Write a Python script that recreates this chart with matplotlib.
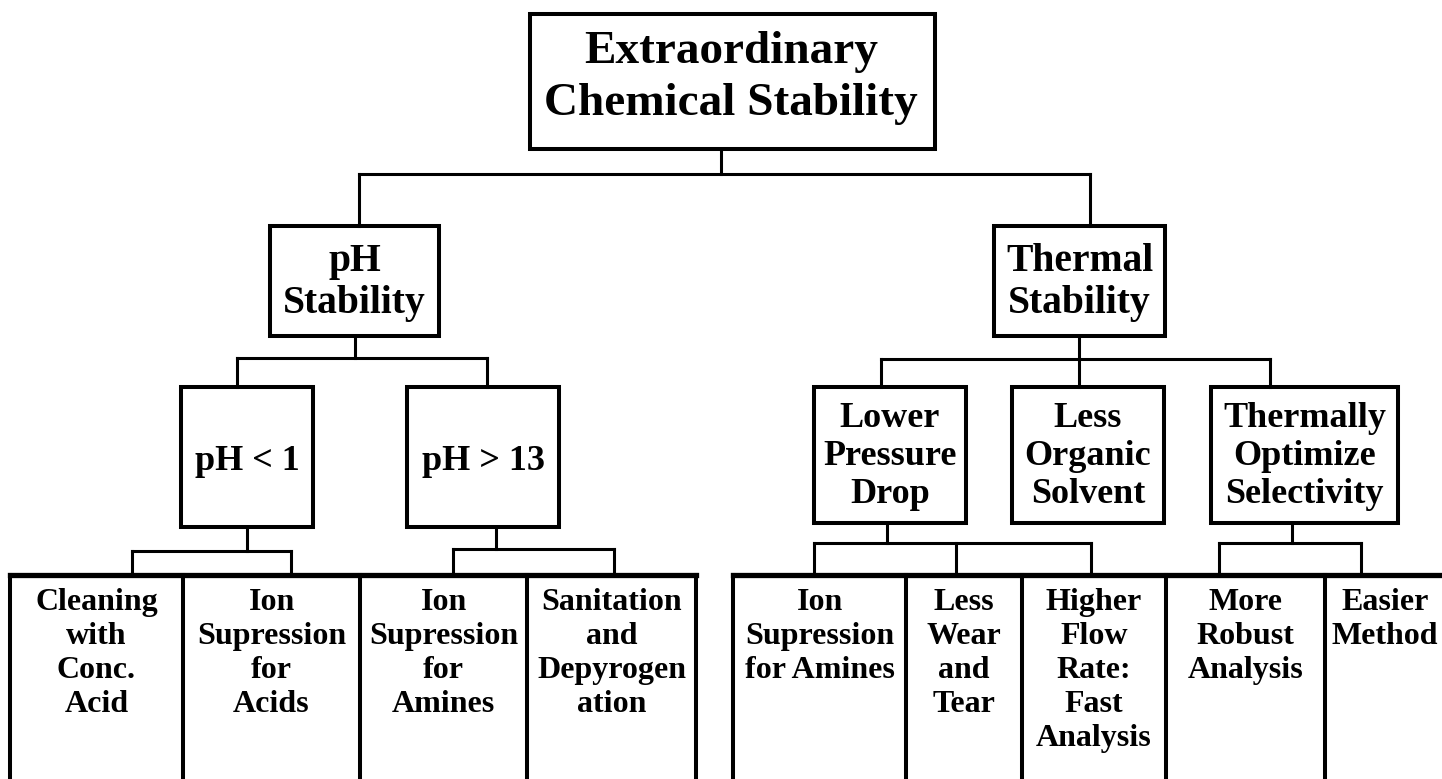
import matplotlib
matplotlib.use("Agg")
import matplotlib.pyplot as plt
from matplotlib.patches import Rectangle

# ---------------- content ----------------
root_label = ["Extraordinary", "Chemical Stability"]
level1_labels = [["pH", "Stability"], ["Thermal", "Stability"]]
level2_labels = [["pH < 1"], ["pH > 13"],
                 ["Lower", "Pressure", "Drop"],
                 ["Less", "Organic", "Solvent"],
                 ["Thermally", "Optimize", "Selectivity"]]
leaf_labels = [["Cleaning", "with", "Conc.", "Acid"],
               ["Ion", "Supression", "for", "Acids"],
               ["Ion", "Supression", "for", "Amines"],
               ["Sanitation", "and", "Depyrogen", "ation"],
               ["Ion", "Supression", "for Amines"],
               ["Less", "Wear", "and", "Tear"],
               ["Higher", "Flow", "Rate:", "Fast", "Analysis"],
               ["More", "Robust", "Analysis"],
               ["Easier", "Method"]]

# ---------------- layout (pixels) ----------------
W, H = 1442, 779
root_box = (530, 14, 935, 149)
level1_boxes = [(270, 226, 439, 336), (994, 226, 1165, 336)]
level2_boxes = [(181, 387, 313, 527), (407, 387, 559, 527),
                (814, 387, 966, 523), (1012, 387, 1164, 523),
                (1211, 387, 1398, 523)]
leaf_groups = [[10, 183, 360, 527, 696], [733, 906, 1022, 1166, 1325, W + 5]]
leaf_top = 575

FONT = "Liberation Serif"
BOX_LW = 2.9
CONN_LW = 2.2

fig = plt.figure(figsize=(W / 100, H / 100), dpi=100)
ax = fig.add_axes([0, 0, 1, 1])
ax.set_xlim(0, W)
ax.set_ylim(H, 0)
ax.axis("off")


def box(b):
    x0, y0, x1, y1 = b
    ax.add_patch(Rectangle((x0, y0), x1 - x0, y1 - y0, fill=False,
                           edgecolor="black", linewidth=BOX_LW,
                           joinstyle="miter"))


def lines(xs, ys, lw=CONN_LW):
    ax.plot(xs, ys, color="black", linewidth=lw, solid_capstyle="projecting")


def label(lines_, cx, y_first, step, size):
    for i, t in enumerate(lines_):
        ax.text(cx, y_first + i * step, t, ha="center", va="baseline",
                fontsize=size, fontweight="bold", family=FONT)


# root
box(root_box)
label(root_label, 731, 63, 52, 34)
lines([721, 721], [149, 174])
lines([359, 1090], [174, 174])
lines([359, 359], [174, 226])
lines([1090, 1090], [174, 226])

# level 1
for b, lab in zip(level1_boxes, level1_labels):
    box(b)
    label(lab, (b[0] + b[2]) / 2, 271, 42, 28.5)

# pH branch
lines([355, 355], [336, 358])
lines([237, 487], [358, 358])
for x in (237, 487):
    lines([x, x], [358, 387])
# thermal branch
lines([1079, 1079], [336, 359])
lines([881, 1270], [359, 359])
for x in (881, 1079, 1270):
    lines([x, x], [359, 387])

# level 2
l2_first = [470, 470, 427, 427, 427]
for b, lab, yf in zip(level2_boxes, level2_labels, l2_first):
    box(b)
    label(lab, (b[0] + b[2]) / 2, yf, 38, 26)

# level 2 -> leaves connectors
conn = [(247, 527, 551, [132, 291]),
        (496, 527, 549, [453, 614]),
        (887, 523, 543, [814, 956, 1091]),
        (1292, 523, 543, [1219, 1361])]
for sx, y0, yh, drops in conn:
    lines([sx, sx], [y0, yh])
    lines([min(drops), max(drops)], [yh, yh])
    for x in drops:
        lines([x, x], [yh, leaf_top])

# leaves
li = 0
for grp in leaf_groups:
    lines([grp[0], grp[-1]], [leaf_top, leaf_top], lw=3.8)
    for x in grp:
        lines([x, x], [leaf_top, H + 10], lw=BOX_LW)
    for a, b in zip(grp[:-1], grp[1:]):
        cx = (a + b) / 2 if b <= W else 1385
        label(leaf_labels[li], cx, 610, 34, 23)
        li += 1

fig.savefig("out.png", dpi=100)
